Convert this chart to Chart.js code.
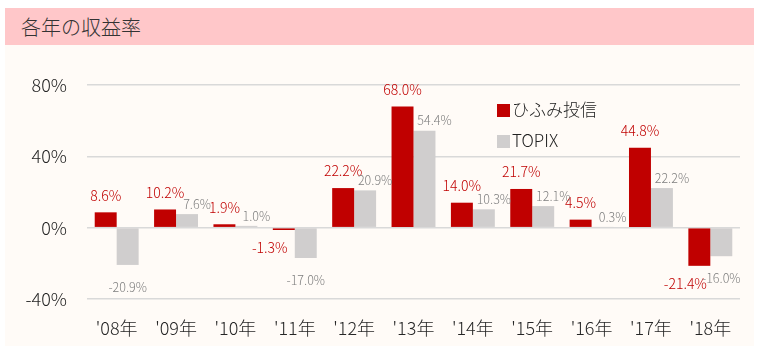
<!DOCTYPE html>
<html lang="ja">
<head>
  <meta charset="UTF-8">
  <title>各年の収益率</title>
  <script src="https://cdn.jsdelivr.net/npm/chart.js"></script>
  <style>
    body, html {
      margin: 0;
      padding: 0;
      background: #ffffff;
      font-family: "Noto Sans CJK JP", "Noto Sans", sans-serif;
    }
    #titulo {
      position: absolute;
      left: 5px;
      top: 8px;
      width: 749px;
      height: 37px;
      background: #ffc7c9;
      color: #333333;
      font-size: 20px;
      font-weight: 300;
      line-height: 37px;
      padding-left: 16px;
      box-sizing: border-box;
    }
    #caja {
      position: absolute;
      left: 5px;
      top: 45px;
      width: 749px;
      height: 301px;
      background: #fffbf7;
    }
  </style>
</head>
<body>
  <div id="titulo">各年の収益率</div>
  <div id="caja"><canvas id="grafico"></canvas></div>
  <script>
    const anios = ["'08年", "'09年", "'10年", "'11年", "'12年", "'13年", "'14年", "'15年", "'16年", "'17年", "'18年"];
    const hifumi = [8.6, 10.2, 1.9, -1.3, 22.2, 68.0, 14.0, 21.7, 4.5, 44.8, -21.4];
    const topix = [-20.9, 7.6, 1.0, -17.0, 20.9, 54.4, 10.3, 12.1, 0.3, 22.2, -16.0];
    const ticksY = [-40, 0, 40, 80];

    const fuente = '"Noto Sans CJK JP", "Noto Sans", sans-serif';

    // etiquetas de valor y leyenda dibujadas a mano
    const etiquetas = {
      id: "etiquetas",
      afterDatasetsDraw(chart) {
        const c = chart.ctx;
        const estilos = [
          { color: "#c00000", size: 14, up: 17, down: 18, dxUp: 0, dxDown: -14 },
          { color: "#7f7f7f", size: 12.5, up: 10, down: 22, dxUp: 10, dxDown: 0 }
        ];
        c.save();
        c.textAlign = "center";
        c.textBaseline = "middle";
        chart.data.datasets.forEach((ds, i) => {
          const e = estilos[i];
          c.fillStyle = e.color;
          c.font = "300 " + e.size + "px " + fuente;
          chart.getDatasetMeta(i).data.forEach((bar, j) => {
            const v = ds.data[j];
            const txt = v.toFixed(1) + "%";
            if (v >= 0) {
              c.fillText(txt, bar.x + e.dxUp, bar.y - e.up);
            } else {
              c.fillText(txt, bar.x + e.dxDown, bar.y + e.down);
            }
          });
        });

        // leyenda
        c.textAlign = "left";
        c.font = "300 17px " + fuente;
        chart.data.datasets.forEach((ds, i) => {
          const y = 59 + i * 31;
          c.fillStyle = ds.legendColor;
          c.fillRect(492, y, 13, 13);
          c.fillStyle = "#222222";
          c.fillText(ds.label, 507, y + 6);
        });
        c.restore();
      }
    };

    new Chart(document.getElementById("grafico"), {
      type: "bar",
      data: {
        labels: anios,
        datasets: [
          { label: "ひふみ投信", data: hifumi, backgroundColor: "#c00000", legendColor: "#c00000" },
          { label: "TOPIX", data: topix, backgroundColor: "#d0cece", legendColor: "#d0cece" }
        ]
      },
      options: {
        responsive: true,
        maintainAspectRatio: false,
        animation: false,
        categoryPercentage: 0.74,
        barPercentage: 1.0,
        layout: { padding: { top: 40, right: 14, left: 0, bottom: 0 } },
        plugins: {
          legend: { display: false },
          tooltip: { enabled: false }
        },
        scales: {
          x: {
            grid: { display: false, drawTicks: false },
            border: { display: false },
            ticks: { color: "#262626", font: { family: fuente, size: 18, weight: 300 }, padding: 18 },
            afterFit(s) { s.height = 47; }
          },
          y: {
            min: -40,
            max: 80,
            afterBuildTicks(s) { s.ticks = ticksY.map(v => ({ value: v })); },
            grid: { color: "#d9d9d9", lineWidth: 1.5, drawTicks: false },
            border: { display: false },
            ticks: {
              color: "#262626",
              font: { family: fuente, size: 18, weight: 300 },
              padding: 20,
              callback: v => v + "%"
            },
            afterFit(s) { s.width = 82; }
          }
        }
      },
      plugins: [etiquetas]
    });
  </script>
</body>
</html>
